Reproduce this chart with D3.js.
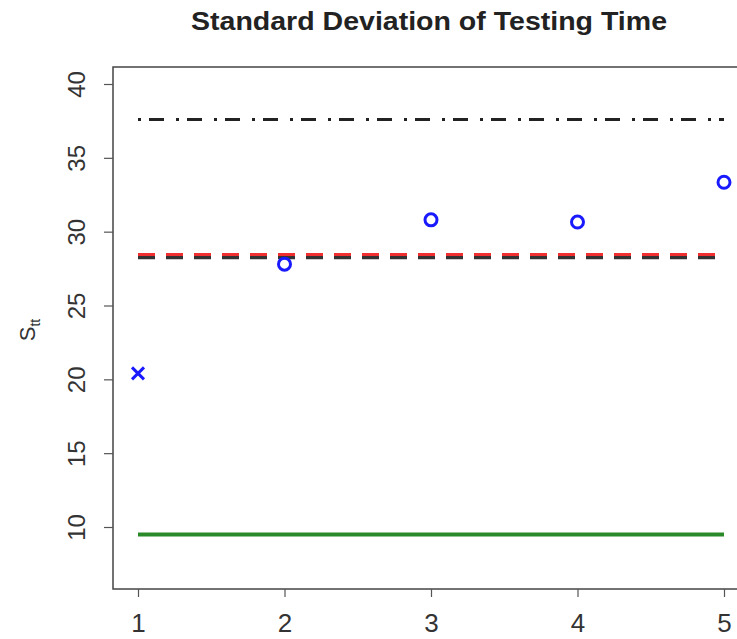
<!DOCTYPE html>
<html><head><meta charset="utf-8">
<script src="https://cdn.jsdelivr.net/npm/d3@7"></script>
<style>body{margin:0;background:#fff}svg{display:block}</style>
</head><body>
<script>
const categories = [1, 2, 3, 4, 5];
const pointValues = [20.4, 27.8, 30.8, 30.65, 33.35];
const pointShapes = ["x", "o", "o", "o", "o"];
const refDashDot = 37.6;
const refRed = 28.45;
const refBlack = 28.25;
const refGreen = 9.5;
const yTicks = [10, 15, 20, 25, 30, 35, 40];

(function () {
const W = 737, H = 639;
const FF = "Liberation Sans, Arial, sans-serif";
const svg = d3.select("body").append("svg").attr("width", W).attr("height", H);
const mLeft = 113, mTop = 67, mBottom = 589;
const x = d3.scaleLinear().domain([1, 5]).range([138, 724]);
const mRight = x(5.16);
const y = d3.scaleLinear().domain([10, 40]).range([527, 84]);

svg.append("text").attr("x", 429).attr("y", 30).attr("text-anchor", "middle")
  .attr("font-family", FF).attr("font-weight", "bold")
  .attr("font-size", 25).attr("fill", "#222")
  .attr("textLength", 476).attr("lengthAdjust", "spacingAndGlyphs")
  .text("Standard Deviation of Testing Time");

const g = svg.append("g");
const line = (v, color, w, dash) => g.append("line")
  .attr("x1", x(1)).attr("x2", x(5)).attr("y1", y(v)).attr("y2", y(v))
  .attr("stroke", color).attr("stroke-width", w).attr("stroke-dasharray", dash);
line(refDashDot, "#222", 3, "3 8 15 12");
line(refBlack, "#333", 3.5, "17 11");
line(refRed, "#f03030", 3, "17 11");
line(refGreen, "#2a8a2a", 4, null);

categories.forEach((c, i) => {
  const cx = x(c), cy = y(pointValues[i]);
  if (pointShapes[i] === "x") {
    const s = 6;
    g.append("path").attr("d", `M${cx-s},${cy-s}L${cx+s},${cy+s}M${cx-s},${cy+s}L${cx+s},${cy-s}`)
      .attr("stroke", "#1a1aff").attr("stroke-width", 3).attr("fill", "none");
  } else {
    g.append("circle").attr("cx", cx).attr("cy", cy).attr("r", 6)
      .attr("stroke", "#1a1aff").attr("stroke-width", 3).attr("fill", "none");
  }
});

svg.append("rect").attr("x", mLeft).attr("y", mTop).attr("width", mRight - mLeft).attr("height", mBottom - mTop)
  .attr("fill", "none").attr("stroke", "#444").attr("stroke-width", 1.5);

const ya = svg.append("g").attr("transform", `translate(${mLeft},0)`)
  .call(d3.axisLeft(y).tickValues(yTicks).tickSize(9).tickPadding(0).tickFormat(d3.format("d")));
ya.select(".domain").remove();
ya.selectAll("line").attr("stroke", "#555").attr("stroke-width", 1.2);
ya.selectAll("text").attr("transform", `translate(-28,0) rotate(-90)`)
  .attr("x", 0).attr("y", 0).attr("dy", "0").attr("text-anchor", "middle")
  .attr("font-family", FF).attr("font-size", 24).attr("fill", "#333");

const xa = svg.append("g").attr("transform", `translate(0,${mBottom})`)
  .call(d3.axisBottom(x).tickValues(categories).tickSize(8).tickPadding(0).tickFormat(d3.format("d")));
xa.select(".domain").remove();
xa.selectAll("line").attr("stroke", "#555").attr("stroke-width", 1.2);
xa.selectAll("text").attr("y", 43).attr("dy", "0")
  .attr("font-family", FF).attr("font-size", 26).attr("fill", "#333");

const yl = svg.append("text").attr("transform", "translate(35,330) rotate(-90)")
  .attr("text-anchor", "middle").attr("font-family", FF)
  .attr("font-size", 22).attr("fill", "#333");
yl.append("tspan").text("S");
yl.append("tspan").attr("font-size", 14).attr("dy", 5).text("tt");
})();
</script>
</body></html>
